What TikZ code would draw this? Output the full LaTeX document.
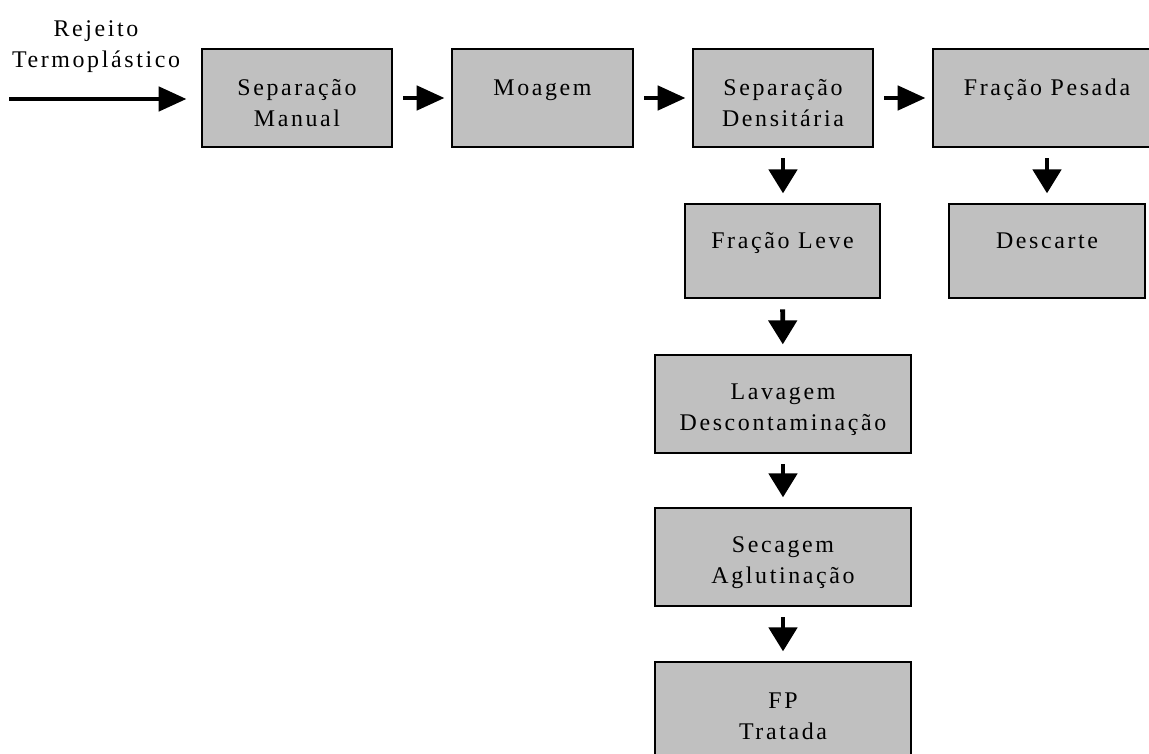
\documentclass[tikz,border=0pt]{standalone}
\usepackage{fontspec}
\setmainfont{Liberation Serif}[LetterSpace=11]
\usetikzlibrary{arrows.meta}
\definecolor{cinza}{HTML}{C0C0C0}
\begin{document}
\begin{tikzpicture}[
x=0.025cm, y=-0.025cm,
font=\fontsize{17}{22}\selectfont,
etapa/.style={rectangle, draw=black, fill=cinza, line width=2pt, align=center, minimum height=2.45cm, text height=41pt},
baixa/.style={etapa, minimum height=2.35cm},
seta/.style={-{Triangle[length=0.7cm, width=0.6cm]}, line width=3.5pt, shorten <=0.25cm, shorten >=0.15cm},
setav/.style={-{Triangle[length=0.6cm, width=0.7cm]}, line width=3.5pt, shorten <=0.25cm, shorten >=0.23cm},
]
\useasboundingbox (0,0) rectangle (1149,754);
\clip (0,0) rectangle (1149,754);
% linha de cima
\node[etapa, minimum width=4.75cm] (sepman) at (297,98) {Separação\\Manual};
\node[etapa, minimum width=4.525cm] (moagem) at (542.5,98) {Moagem\\\mbox{}};
\node[etapa, minimum width=4.5cm] (sepdens) at (783,98) {Separação\\Densitária};
\node[etapa, minimum width=5.7cm] (pesada) at (1047,98) {Fração Pesada\\\mbox{}};
% coluna da fracao leve
\node[baixa, minimum width=4.875cm] (leve) at (782.5,251) {Fração Leve\\\mbox{}};
\node[baixa, minimum width=4.9cm] (descarte) at (1047,251) {Descarte\\\mbox{}};
\node[etapa, minimum width=6.4cm] (lavagem) at (783,404) {Lavagem\\Descontaminação};
\node[etapa, minimum width=6.4cm] (secagem) at (783,557) {Secagem\\Aglutinação};
\node[etapa, minimum width=6.4cm] (fp) at (783,711) {FP\\Tratada};
% entrada
\node[align=center] (rejeito) at (96,47) {Rejeito\\Termoplástico};
\coordinate (entrada) at (9,99);
\draw[seta, shorten <=0pt, shorten >=0.35cm] (entrada) -- (sepman.west |- entrada);
% setas
\draw[seta] (sepman) -- (moagem);
\draw[seta] (moagem) -- (sepdens);
\draw[seta] (sepdens) -- (pesada);
\draw[setav] (sepdens.south) -- (sepdens.south |- leve.north);
\draw[setav] (pesada) -- (descarte);
\draw[setav] (leve) -- (lavagem);
\draw[setav] (lavagem) -- (secagem);
\draw[setav] (secagem) -- (fp);
\end{tikzpicture}
\end{document}
